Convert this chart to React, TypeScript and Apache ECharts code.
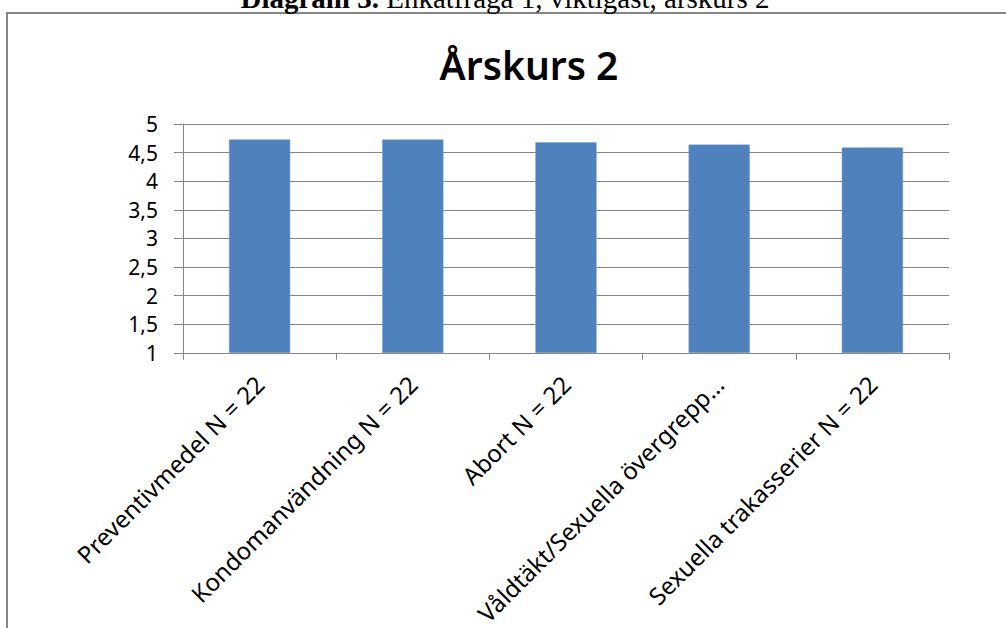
import React, { useEffect, useRef } from "react";
import * as echarts from "echarts";

const categories = [
  "Preventivmedel N = 22",
  "Kondomanvändning N = 22",
  "Abort N = 22",
  "Våldtäkt/Sexuella övergrepp…",
  "Sexuella trakasserier N = 22",
];
const values = [4.73, 4.73, 4.68, 4.64, 4.59];
const yTicks = { min: 1, max: 5, interval: 0.5 };
const chartTitle = "Årskurs 2";
const captionBold = "Diagram 3.";
const captionRest = " Enkätfråga 1, viktigast, årskurs 2";

export default function App() {
  const ref = useRef<HTMLDivElement>(null);
  useEffect(() => {
    if (!ref.current) return;
    const chart = echarts.init(ref.current, null, { renderer: "svg" });
    const gray = "#868686";
    const font = "'Noto Sans', sans-serif";
    const serif = "'Liberation Serif', 'Times New Roman', serif";
    chart.setOption({
      animation: false,
      backgroundColor: "#ffffff",
      graphic: [
        {
          type: "rect",
          shape: { x: 7, y: 13, width: 1100, height: 700 },
          style: { fill: "none", stroke: gray, lineWidth: 2 },
          silent: true,
        },
        {
          type: "text",
          x: 505,
          y: -2,
          style: {
            text: "{b|" + captionBold + "}{r|" + captionRest + "}",
            align: "center",
            verticalAlign: "middle",
            rich: {
              b: { fontFamily: serif, fontSize: 29, fontWeight: "bold", fill: "#000" },
              r: { fontFamily: serif, fontSize: 29, fill: "#000" },
            },
          },
        },
        {
          type: "text",
          x: 529,
          y: 64,
          style: {
            text: chartTitle,
            align: "center",
            verticalAlign: "middle",
            fontFamily: font,
            fontSize: 39,
            fontWeight: 600,
            fill: "#000",
          },
        },
      ],
      grid: { left: 183, right: 57, top: 124, bottom: 270, containLabel: false },
      xAxis: {
        type: "category",
        data: categories,
        axisLine: { lineStyle: { color: gray, width: 1 } },
        axisTick: { show: true, length: 7, lineStyle: { color: gray } },
        axisLabel: {
          interval: 0,
          rotate: 45,
          margin: 27,
          fontFamily: font,
          fontSize: 24,
          color: "#000",
        },
      },
      yAxis: {
        type: "value",
        min: yTicks.min,
        max: yTicks.max,
        interval: yTicks.interval,
        axisLine: { show: true, lineStyle: { color: gray, width: 1 } },
        axisTick: { show: true, length: 9, lineStyle: { color: gray } },
        splitLine: { lineStyle: { color: gray, width: 1 } },
        axisLabel: {
          margin: 25,
          fontFamily: font,
          fontSize: 21,
          color: "#000",
          formatter: (v: number) => String(v).replace(".", ","),
        },
      },
      series: [
        {
          type: "bar",
          data: values,
          barWidth: "40%",
          itemStyle: { color: "#4f81bd", borderColor: "#7a9fcf", borderWidth: 0.5 },
        },
      ],
    });
    return () => chart.dispose();
  }, []);
  return (
    <div
      ref={ref}
      style={{ position: "absolute", left: 0, top: 0, width: 1006, height: 628, background: "#fff" }}
    />
  );
}
